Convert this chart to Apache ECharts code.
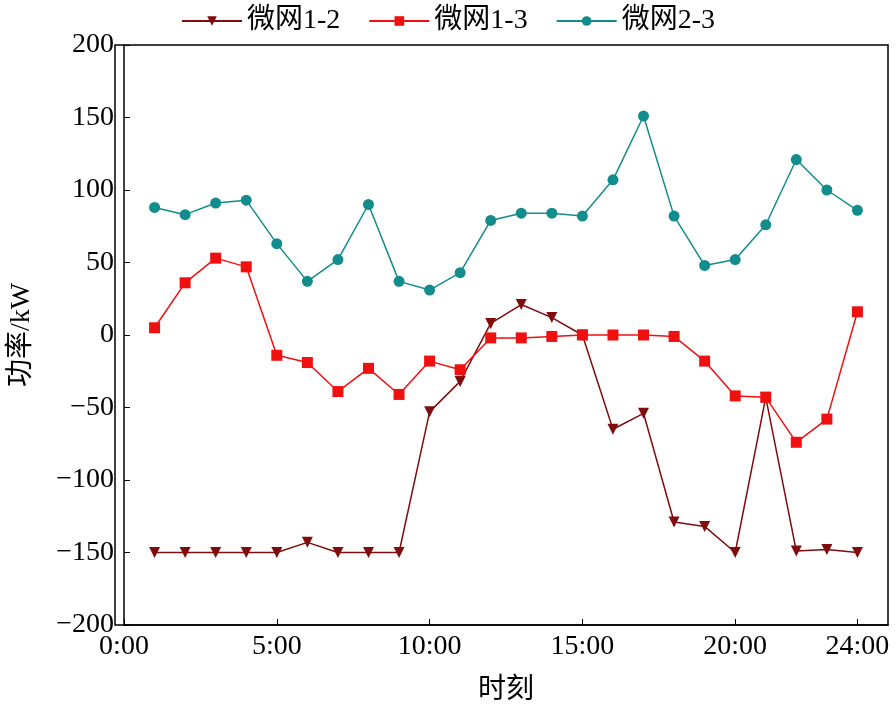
<!DOCTYPE html>
<html><head><meta charset="utf-8">
<script src="https://cdn.jsdelivr.net/npm/echarts@6/dist/echarts.min.js"></script>
<style>html,body{margin:0;padding:0;background:#fff}#c{width:896px;height:714px}</style>
</head><body><div id="c"></div>
<script>
const hours = [1,2,3,4,5,6,7,8,9,10,11,12,13,14,15,16,17,18,19,20,21,22,23,24];
const s12 = [-150,-150,-150,-150,-150,-143,-150,-150,-150,-53,-32,8,21,12,0,-65,-54,-129,-132,-150,-43,-149,-148,-150];
const s13 = [5,36,53,47,-14,-19,-39,-23,-41,-18,-24,-2,-2,-1,0,0,0,-1,-18,-42,-43,-74,-58,16];
const s23 = [88,83,91,93,63,37,52,90,37,31,43,79,84,84,82,107,151,82,48,52,76,121,100,86];
const xTicks = [0,5,10,15,20,24];
const xLabels = ['0:00','5:00','10:00','15:00','20:00','24:00'];
const font = '"Liberation Serif","Noto Sans CJK SC",serif';
const pair = a => hours.map((h,i)=>[h,a[i]]);
const chart = echarts.init(document.getElementById('c'));
chart.setOption({
  animation:false,
  textStyle:{fontFamily:font},
  legend:{top:2,left:'center',itemWidth:60,itemHeight:12,itemGap:28,
    textStyle:{fontFamily:font,fontSize:28,color:'#000'}},
  grid:{left:115,right:8,top:45,bottom:89},
  xAxis:{type:'value',min:0,max:25,
    axisLine:{show:true,onZero:false,lineStyle:{color:'#000',width:1.5}},
    axisTick:{inside:true,length:6,customValues:xTicks,lineStyle:{color:'#000'}},
    axisLabel:{customValues:xTicks,formatter:v=>xLabels[xTicks.indexOf(v)],fontSize:28,color:'#000',fontFamily:font,margin:8},
    splitLine:{show:false},
    name:'时刻',nameLocation:'middle',nameGap:52,nameTextStyle:{fontSize:28,color:'#000',fontFamily:font}},
  yAxis:{type:'value',min:-200,max:200,interval:50,
    axisLine:{show:true,onZero:false,lineStyle:{color:'#000',width:1.5}},
    axisTick:{inside:true,length:6,lineStyle:{color:'#000'}},
    axisLabel:{fontSize:28,color:'#000',fontFamily:font,margin:10,formatter:v=>v<0?'\u2212'+(-v):''+v},
    splitLine:{show:false},
    name:'功率/kW',nameLocation:'middle',nameGap:88,nameTextStyle:{fontSize:28,color:'#000',fontFamily:font}},
  graphic:[{type:'rect',shape:{x:115,y:45,width:773,height:580},style:{fill:'none',stroke:'#000',lineWidth:1.5},silent:true}],
  series:[
    {name:'微网1-2',type:'line',data:pair(s12),symbol:'triangle',symbolRotate:180,symbolSize:11,
      itemStyle:{color:'#7f0d0d'},lineStyle:{color:'#7f0d0d',width:1.5}},
    {name:'微网1-3',type:'line',data:pair(s13),symbol:'rect',symbolSize:11,
      itemStyle:{color:'#f01010'},lineStyle:{color:'#f01010',width:1.5}},
    {name:'微网2-3',type:'line',data:pair(s23),symbol:'circle',symbolSize:11,
      itemStyle:{color:'#128c8c'},lineStyle:{color:'#128c8c',width:1.5}}
  ]
});
</script></body></html>
